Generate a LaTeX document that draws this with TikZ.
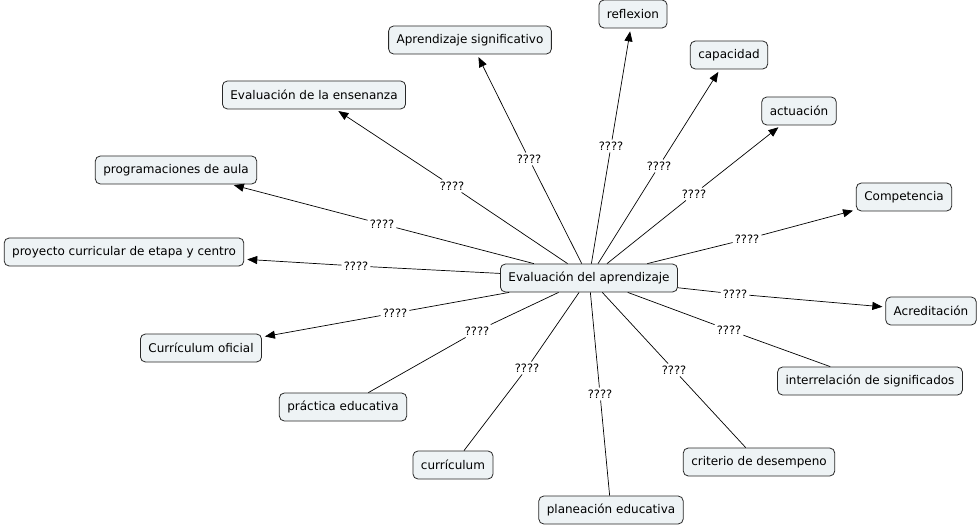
\documentclass[tikz,border=0pt]{standalone}
\usepackage{fontspec}
\setmainfont{DejaVu Sans}
\usetikzlibrary{arrows.meta}
\definecolor{boxfill}{RGB}{238,243,245}
\definecolor{boxline}{RGB}{40,40,40}
\tikzset{
  concept/.style={draw=boxline, fill=boxfill, rounded corners=5pt, line width=0.8pt,
    minimum height=28pt, inner xsep=8pt, inner ysep=3pt, font=\fontsize{12}{14}\selectfont},
  lab/.style={inner sep=2pt, font=\fontsize{11.5}{13}\selectfont},
  link/.style={line width=0.7pt, black},
  arr/.style={link, -{Triangle[length=10pt,width=8pt]}, shorten >=3pt},
}
\begin{document}
\begin{tikzpicture}[x=1pt,y=-1pt]
\useasboundingbox[fill=white] (0,0) rectangle (979,526);
\node[concept] (c) at (589,278) {Evaluación del aprendizaje};
\node[concept] (as) at (470,40) {Aprendizaje significativo};
\node[concept] (ref) at (633,14) {reflexion};
\node[concept] (cap) at (729,55) {capacidad};
\node[concept] (act) at (799,111) {actuación};
\node[concept] (comp) at (904,197) {Competencia};
\node[concept] (acr) at (931,311) {Acreditación};
\node[concept] (inter) at (870,381) {interrelación de significados};
\node[concept] (crit) at (759,462) {criterio de desempeno};
\node[concept] (plan) at (611,510) {planeación educativa};
\node[concept] (curr) at (453,465) {currículum};
\node[concept] (prac) at (343,407) {práctica educativa};
\node[concept] (co) at (201,348) {Currículum oficial};
\node[concept] (proy) at (124,252) {proyecto curricular de etapa y centro\ };
\node[concept] (prog) at (176,170) {programaciones de aula};
\node[concept] (ee) at (314,95) {Evaluación de la ensenanza};

\node[lab] (l1) at (529,159) {????};
\node[lab] (l2) at (611,146) {????};
\node[lab] (l3) at (659,166) {????};
\node[lab] (l4) at (694,194) {????};
\node[lab] (l5) at (747,239) {????};
\node[lab] (l6) at (735,294) {????};
\node[lab] (l7) at (729,330) {????};
\node[lab] (l8) at (674,370) {????};
\node[lab] (l9) at (600,394) {????};
\node[lab] (l10) at (527,368) {????};
\node[lab] (l11) at (477,331) {????};
\node[lab] (l12) at (395,313) {????};
\node[lab] (l13) at (356,266) {????};
\node[lab] (l14) at (382,224) {????};
\node[lab] (l15) at (452,186) {????};

\foreach \l in {l1,l2,l3,l4,l5,l6,l7,l8,l9,l10,l11,l12,l13,l14,l15}
  \draw[link] (c) -- (\l);
\draw[arr] (l1) -- (as);
\draw[arr] (l2) -- (ref);
\draw[arr] (l3) -- (cap);
\draw[arr] (l4) -- (act);
\draw[arr] (l5) -- (comp);
\draw[arr] (l6) -- (acr);
\draw[link] (l7) -- (inter);
\draw[link] (l8) -- (crit);
\draw[link] (l9) -- (plan);
\draw[link] (l10) -- (curr);
\draw[link] (l11) -- (prac);
\draw[arr] (l12) -- (co);
\draw[arr] (l13) -- (proy);
\draw[arr] (l14) -- (prog);
\draw[arr] (l15) -- (ee);
\end{tikzpicture}
\end{document}
